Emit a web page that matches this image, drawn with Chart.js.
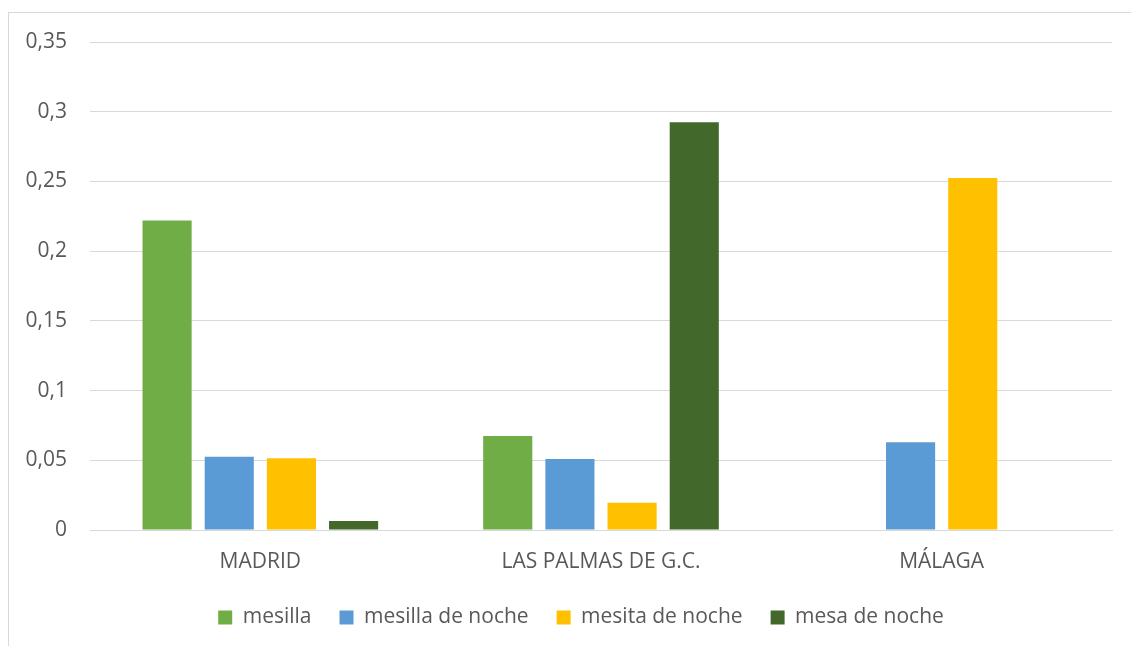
<!DOCTYPE html>
<html>
<head>
<meta charset="utf-8">
<script src="https://cdn.jsdelivr.net/npm/chart.js@4"></script>
<style>
  html, body { margin: 0; padding: 0; background: #fff; overflow: hidden; }
  .frame { position: absolute; left: 8px; top: 12px; width: 1200px; height: 700px; border: 1px solid #d9d9d9; }
  .wrap { position: absolute; left: 0; top: 0; width: 1131px; height: 646px; }
</style>
</head>
<body>
<div class="frame"></div>
<div class="wrap"><canvas id="myChart" width="1131" height="646"></canvas></div>
<script>
const cities = ["MADRID", "LAS PALMAS DE G.C.", "MÁLAGA"];
const mesilla = [0.222, 0.0675, 0];
const mesillaDeNoche = [0.0525, 0.051, 0.063];
const mesitaDeNoche = [0.0515, 0.0195, 0.2525];
const mesaDeNoche = [0.0065, 0.2925, 0];
const yTicks = [0, 0.05, 0.1, 0.15, 0.2, 0.25, 0.3, 0.35];

const fontFam = "'Open Sans', 'Liberation Sans', sans-serif";

// legend keeps wide gaps between items but a short box, centred a bit to the right
const legendFix = {
  id: 'legendFix',
  beforeLayout(chart) {
    const lg = chart.legend;
    if (lg && !lg._patched) {
      const f = lg.fit;
      lg.fit = function () { f.call(this); this.height = 67; };
      lg._patched = true;
    }
  },
  afterLayout(chart) {
    if (chart.legend) chart.legend.left += 50;
  }
};

var ctx = document.getElementById('myChart').getContext('2d');
var myChart = new Chart(ctx, {
  type: 'bar',
  data: {
    labels: cities,
    datasets: [{
      label: "mesilla",
      data: mesilla,
      backgroundColor: "#70ad47"
    }, {
      label: "mesilla de noche",
      data: mesillaDeNoche,
      backgroundColor: "#5b9bd5"
    }, {
      label: "mesita de noche",
      data: mesitaDeNoche,
      backgroundColor: "#ffc000"
    }, {
      label: "mesa de noche",
      data: mesaDeNoche,
      backgroundColor: "#43682b"
    }]
  },
  plugins: [legendFix],
  options: {
    responsive: false,
    animation: false,
    layout: { padding: { left: 0, right: 19, top: 42, bottom: 0 } },
    datasets: { bar: { categoryPercentage: 0.73, barPercentage: 0.79 } },
    plugins: {
      tooltip: { enabled: false },
      legend: {
        position: 'bottom',
        labels: {
          boxWidth: 14,
          boxHeight: 14,
          padding: 28,
          color: '#595959',
          font: { family: fontFam, size: 21 }
        }
      }
    },
    scales: {
      x: {
        afterFit: (axis) => { axis.height = 49; },
        grid: { display: false },
        border: { color: '#d9d9d9', width: 1 },
        ticks: { color: '#595959', padding: 11, font: { family: fontFam, size: 21 } }
      },
      y: {
        min: 0,
        max: 0.35,
        afterBuildTicks: (axis) => { axis.ticks = yTicks.map(v => ({ value: v })); },
        afterFit: (axis) => { axis.width = 90; },
        grid: { color: '#d9d9d9', lineWidth: 1, drawTicks: false },
        border: { display: false },
        ticks: {
          color: '#595959',
          padding: 23,
          font: { family: fontFam, size: 21 },
          callback: (v) => String(Number(v.toFixed(2))).replace('.', ',')
        }
      }
    }
  }
});
</script>
</body>
</html>
